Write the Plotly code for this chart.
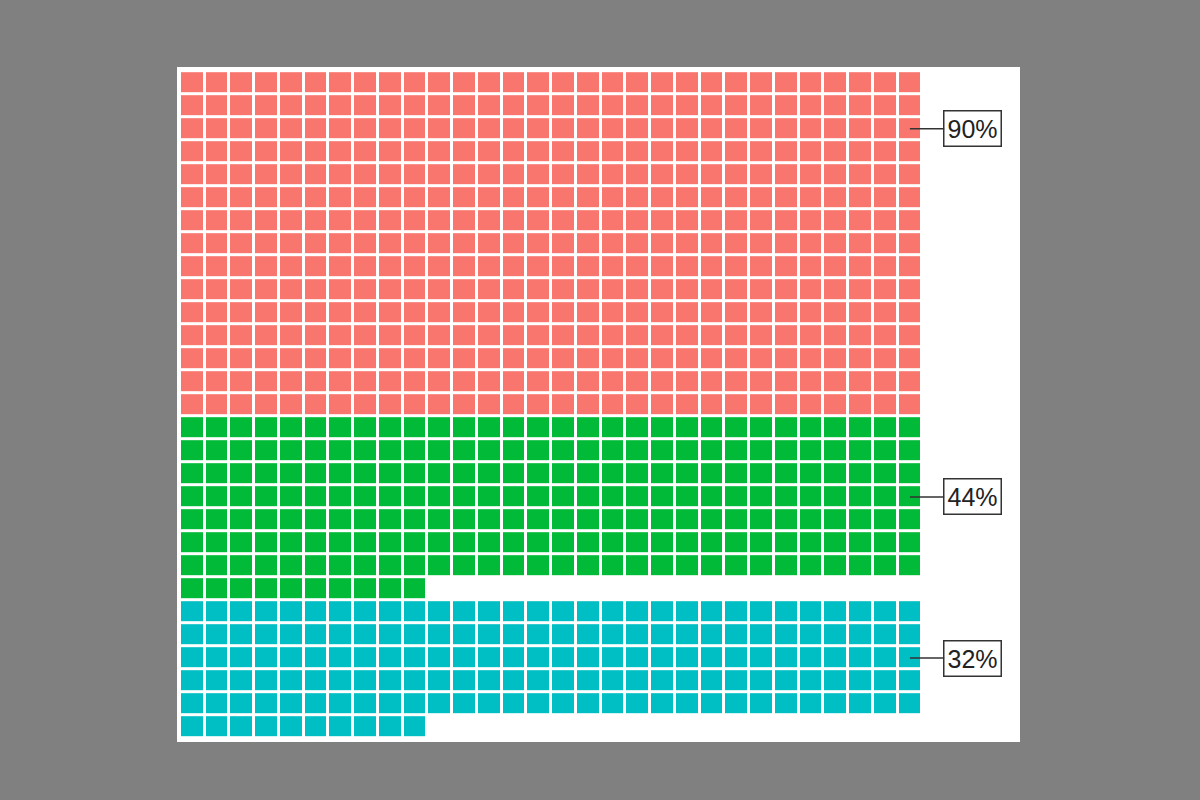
import plotly.graph_objects as go

# waffle data: one square = 0.2 %
categories = ['A', 'B', 'C']
percents = [90, 44, 32]
colors = ['#F8766D', '#00BA38', '#00BFC4']
labels = ['90%', '44%', '32%']
label_rows = [2, 3, 2]  # row within each block where the label points

n_cols = 30
per_pct = 5

# build the grid, each category starts on a new row, partial row goes at the bottom
z = []
label_y = []
for k, p in enumerate(percents):
    n = p * per_pct
    full, rest = divmod(n, n_cols)
    start = len(z)
    for r in range(full):
        z.append([k] * n_cols)
    if rest:
        z.append([k] * rest + [None] * (n_cols - rest))
    label_y.append(start + label_rows[k])

n_rows = len(z)

colorscale = [[0, colors[0]], [0.333, colors[0]],
              [0.333, colors[1]], [0.667, colors[1]],
              [0.667, colors[2]], [1, colors[2]]]

fig = go.Figure(go.Heatmap(
    z=z,
    x=list(range(n_cols)),
    y=list(range(n_rows)),
    zmin=0, zmax=2,
    colorscale=colorscale,
    showscale=False,
    xgap=3, ygap=3,
    hoverinfo='skip'))

for k, lab in enumerate(labels):
    fig.add_annotation(x=n_cols - 1, y=label_y[k], text=lab,
                       showarrow=True, arrowhead=0, arrowwidth=1.5,
                       arrowcolor='#333333', ax=63, ay=0,
                       font=dict(family='Liberation Sans, Arial', size=25, color='#222222'),
                       bordercolor='#333333', borderwidth=1.5, borderpad=3,
                       bgcolor='white')

fig.update_xaxes(range=[-0.62, 33.45], visible=False, fixedrange=True)
fig.update_yaxes(range=[28.65, -0.68], visible=False, fixedrange=True)
fig.update_layout(width=1200, height=800,
                  paper_bgcolor='#808080', plot_bgcolor='white',
                  margin={'l': 177, 'r': 180, 't': 67, 'b': 58},
                  showlegend=False)

fig.write_html('out.html', config={'displayModeBar': False},
               post_script="document.body.style.margin='0';document.body.style.background='#808080';")
